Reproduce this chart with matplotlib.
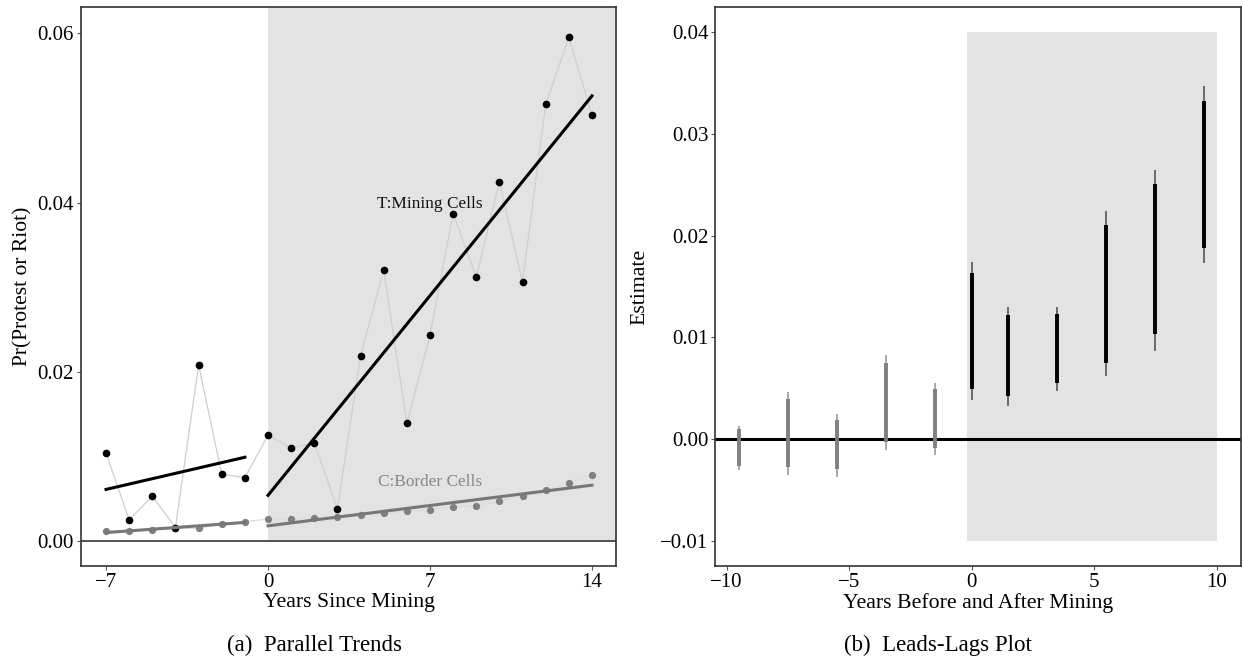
import numpy as np
import matplotlib.pyplot as plt

plt.rcParams['font.family'] = ['Liberation Serif', 'DejaVu Serif']
plt.rcParams['font.size'] = 14

# -------------------------
# Panel (a): parallel trends
# -------------------------
years = list(range(-7, 15))
treat = [0.0104, 0.0025, 0.0053, 0.0016, 0.0208, 0.0079, 0.0075,
         0.0125, 0.0110, 0.0116, 0.0038, 0.0219, 0.0320, 0.0139,
         0.0243, 0.0387, 0.0312, 0.0424, 0.0306, 0.0516, 0.0595, 0.0503]
control = [0.0012, 0.0012, 0.0013, 0.0015, 0.0015, 0.0020, 0.0023,
           0.0026, 0.0026, 0.0027, 0.0029, 0.0031, 0.0033, 0.0035,
           0.0037, 0.0040, 0.0042, 0.0047, 0.0053, 0.0060, 0.0069, 0.0078]

# fitted trend segments (start, end)
fit_x_pre = [-7, -1]
fit_x_post = [0, 14]
treat_fit_pre = [0.0061, 0.0099]
treat_fit_post = [0.0054, 0.0526]
control_fit_pre = [0.0010, 0.0022]
control_fit_post = [0.0018, 0.0066]

# -------------------------
# Panel (b): leads-lags
# -------------------------
lead_x = [-9.5, -7.5, -5.5, -3.5, -1.5]
lead_lo95 = [-0.0031, -0.0035, -0.0037, -0.0011, -0.0016]
lead_hi95 = [0.0013, 0.0046, 0.0025, 0.0083, 0.0055]
lead_lo90 = [-0.0027, -0.0028, -0.0030, -0.0003, -0.0009]
lead_hi90 = [0.0010, 0.0039, 0.0019, 0.0075, 0.0049]

lag_x = [0, 1.5, 3.5, 5.5, 7.5, 9.5]
lag_lo95 = [0.0038, 0.0032, 0.0047, 0.0062, 0.0087, 0.0173]
lag_hi95 = [0.0174, 0.0130, 0.0130, 0.0224, 0.0265, 0.0347]
lag_lo90 = [0.0049, 0.0042, 0.0055, 0.0075, 0.0103, 0.0188]
lag_hi90 = [0.0163, 0.0122, 0.0123, 0.0211, 0.0251, 0.0333]

SHADE = '#e3e3e3'
SPINE = '#333333'


def style_axes(ax):
    for s in ax.spines.values():
        s.set_color(SPINE)
        s.set_linewidth(1.2)
    ax.tick_params(direction='out', length=3, width=0.8, color='#555555',
                   labelsize=15, pad=2)


fig = plt.figure(figsize=(12.43, 6.6), dpi=100)
ax1 = fig.add_axes([0.0652, 0.1424, 0.4304, 0.8470])
ax2 = fig.add_axes([0.5755, 0.1424, 0.4229, 0.8470])

# --- panel (a)
ax1.set_xlim(-8.08, 15.04)
ax1.set_ylim(-0.00295, 0.0631)
ax1.axvspan(0, 15.04, ymin=(0 + 0.00295) / (0.0631 + 0.00295), ymax=1,
            color=SHADE, lw=0, zorder=0)
ax1.axhline(0, color='#444444', lw=1.3, zorder=1)

ax1.plot(years, treat, color='#cfcfcf', lw=0.9, zorder=2)
ax1.plot(years, control, color='#dddddd', lw=0.9, zorder=2)
ax1.plot(years, control, 'o', color='#808080', ms=4.2, zorder=3)
ax1.plot(years, treat, 'o', color='black', ms=4.5, zorder=4)

ax1.plot(fit_x_pre, treat_fit_pre, color='black', lw=2.2, zorder=5)
ax1.plot(fit_x_post, treat_fit_post, color='black', lw=2.2, zorder=5)
ax1.plot(fit_x_pre, control_fit_pre, color='#777777', lw=2.2, zorder=5)
ax1.plot(fit_x_post, control_fit_post, color='#777777', lw=2.2, zorder=5)

ax1.text(7, 0.0398, 'T:Mining Cells', ha='center', va='center',
         fontsize=12.4, color='#111111')
ax1.text(7, 0.0070, 'C:Border Cells', ha='center', va='center',
         fontsize=12.4, color='#888888')

ax1.set_xticks([-7, 0, 7, 14])
ax1.set_yticks([0, 0.02, 0.04, 0.06])
ax1.set_yticklabels(['0.00', '0.02', '0.04', '0.06'])
ax1.set_xlabel('Years Since Mining', fontsize=15.7, labelpad=0.5)
ax1.set_ylabel('Pr(Protest or Riot)', fontsize=15.5, labelpad=4)
style_axes(ax1)

# --- panel (b)
ax2.set_xlim(-10.46, 10.99)
ax2.set_ylim(-0.0125, 0.0425)
ax2.fill_between([-0.2, 10], -0.01, 0.04, color=SHADE, lw=0, zorder=0)
ax2.axhline(0, color='black', lw=2.2, zorder=1)

ax2.vlines(lead_x, lead_lo95, lead_hi95, color='#999999', lw=1.2, zorder=2)
ax2.vlines(lead_x, lead_lo90, lead_hi90, color='#808080', lw=2.8, zorder=3)
ax2.vlines(lag_x, lag_lo95, lag_hi95, color='#555555', lw=1.2, zorder=2)
ax2.vlines(lag_x, lag_lo90, lag_hi90, color='black', lw=2.8, zorder=3)

ax2.set_xticks([-10, -5, 0, 5, 10])
ax2.set_yticks([-0.01, 0, 0.01, 0.02, 0.03, 0.04])
ax2.set_yticklabels(['\u22120.01', '0.00', '0.01', '0.02', '0.03', '0.04'])
ax2.set_xlabel('Years Before and After Mining', fontsize=15.7, labelpad=0.5)
ax2.set_ylabel('Estimate', fontsize=15.7, labelpad=8)
style_axes(ax2)

fig.text(0.2534, 0.0227, '(a)  Parallel Trends', ha='center', va='center',
         fontsize=16.5)
fig.text(0.7546, 0.0227, '(b)  Leads-Lags Plot', ha='center', va='center',
         fontsize=16.5)

fig.savefig('out.png', dpi=100)
